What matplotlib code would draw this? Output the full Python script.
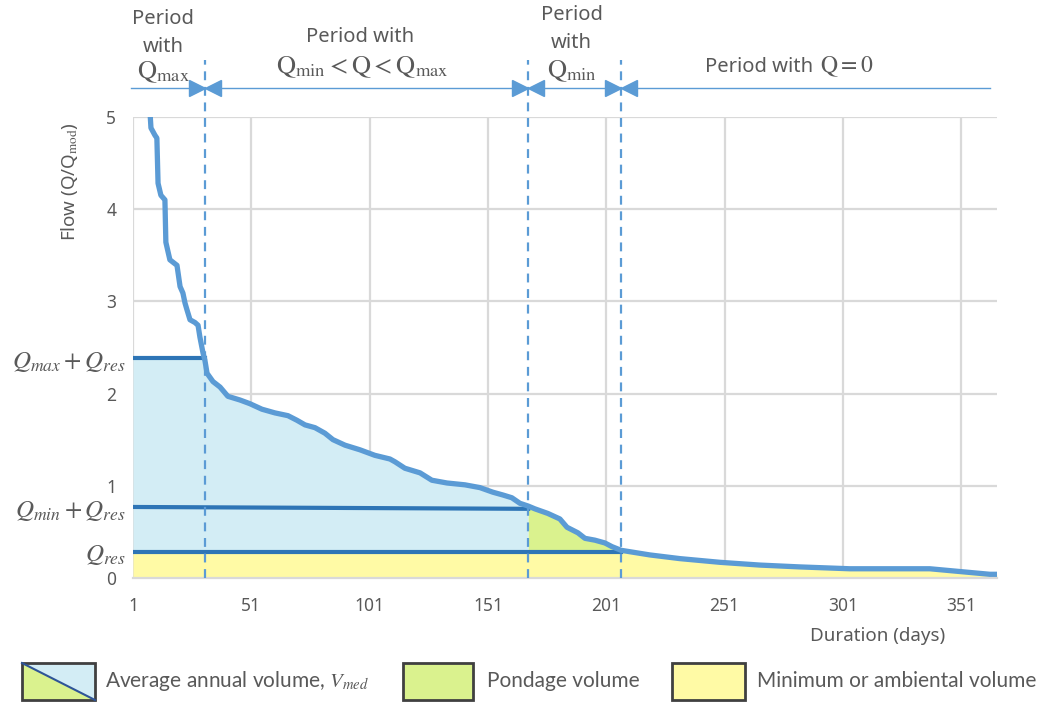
import numpy as np
import matplotlib
matplotlib.use("Agg")
import matplotlib.pyplot as plt
import matplotlib.transforms as mtransforms
from matplotlib.patches import Rectangle, Polygon

plt.rcParams["font.family"] = ["Noto Sans", "DejaVu Sans"]
plt.rcParams["mathtext.fontset"] = "stix"

# flow duration curve (days, Q/Qmod)
days = [1, 8.2, 8.6, 10.3, 11.1, 11.6, 12.8, 14.5, 14.9, 16.6, 19.6, 20.9,
        22.1, 23.0, 23.8, 25.1, 27.2, 28.5, 29.3, 30.6, 31.4, 32.3, 34.8,
        37.8, 41.1, 46.2, 50.4, 55.5, 61.0, 66.5, 70.3, 73.7, 77.9, 82.1,
        85.5, 90.6, 96.9, 103.2, 109.6, 111.7, 115.9, 122.3, 127.3, 133.7,
        141.3, 147.6, 153.1, 157.3, 161.1, 164.5, 168, 170.8, 176.3, 181.4,
        184.4, 189.0, 192.0, 196.2, 200.4, 203.4, 207.3, 219.4, 232.1,
        249.0, 265.9, 282.8, 303.9, 337.7, 350.4, 363.1, 366]
flow = [7.5, 5.05, 4.88, 4.80, 4.77, 4.28, 4.15, 4.10, 3.64, 3.45, 3.39, 3.16,
        3.09, 2.98, 2.91, 2.80, 2.77, 2.74, 2.61, 2.44, 2.36, 2.22, 2.13,
        2.07, 1.97, 1.93, 1.89, 1.83, 1.79, 1.76, 1.71, 1.66, 1.63, 1.57,
        1.50, 1.44, 1.39, 1.33, 1.29, 1.26, 1.19, 1.14, 1.06, 1.03,
        1.01, 0.98, 0.93, 0.90, 0.87, 0.81, 0.78, 0.75, 0.70, 0.64,
        0.55, 0.49, 0.43, 0.41, 0.38, 0.34, 0.30, 0.25, 0.21,
        0.17, 0.14, 0.12, 0.10, 0.10, 0.07, 0.04, 0.04]

Q_MAX_RES = 2.38
Q_MIN_RES = 0.76
Q_RES = 0.28
# period limits (days)
D_QMAX = 31.4
D_QMIN = 168
D_ZERO = 207.3

xticks = [1, 51, 101, 151, 201, 251, 301, 351]
yticks = [0, 1, 2, 3, 4, 5]

BLUE_LINE = "#5B9BD5"
DARK_BLUE = "#2E75B6"
FILL_BLUE = "#D3EDF5"
FILL_GREEN = "#DAF28E"
FILL_YELLOW = "#FFFAA5"
GREY = "#595959"
GRID = "#D9D9D9"

x = np.array(days)
q = np.array(flow)

fig = plt.figure(figsize=(10.47, 7.04), dpi=100)
ax = fig.add_axes([0.127, 0.179, 0.825, 0.655])

# fills
ax.fill_between(x, 0, np.minimum(q, Q_RES), color=FILL_YELLOW, lw=0, zorder=1)
ax.fill_between(x, Q_RES, np.minimum(q, Q_MAX_RES), where=x <= D_QMIN,
                color=FILL_BLUE, lw=0, zorder=1)
ax.fill_between(x, Q_RES, q, where=(x >= D_QMIN) & (x <= D_ZERO),
                color=FILL_GREEN, lw=0, zorder=1)

# reference levels
ax.plot([1, D_QMAX], [Q_MAX_RES, Q_MAX_RES], color=DARK_BLUE, lw=3, zorder=3)
ax.plot([1, D_QMIN], [Q_MIN_RES + 0.01, Q_MIN_RES - 0.01], color=DARK_BLUE, lw=3, zorder=3)
ax.plot([1, D_ZERO], [Q_RES, Q_RES], color=DARK_BLUE, lw=3, zorder=3)

# duration curve
ax.plot(x, q, color=BLUE_LINE, lw=3.8, solid_joinstyle="round", zorder=4)

# period separators and top arrows
y_top = 5.31
ax.plot([0, 363], [y_top, y_top], color=BLUE_LINE, lw=1, clip_on=False, zorder=5)
for d in [D_QMAX, D_QMIN, D_ZERO]:
    ax.plot([d, d], [0, 5.62], color=BLUE_LINE, lw=1.6, ls=(0, (4, 3)),
            clip_on=False, zorder=5)
    ax.plot(d - 3.5, y_top, marker=">", ms=12, color=BLUE_LINE, mec=BLUE_LINE,
            clip_on=False, zorder=6)
    ax.plot(d + 3.5, y_top, marker="<", ms=12, color=BLUE_LINE, mec=BLUE_LINE,
            clip_on=False, zorder=6)

# axes styling
ax.set_xlim(1, 366)
ax.set_ylim(0, 5)
ax.set_xticks(xticks)
ax.set_yticks(yticks)
ax.grid(True, color=GRID, lw=1.6, zorder=0)
ax.set_axisbelow(True)
for s in ["top", "right", "left"]:
    ax.spines[s].set_visible(False)
ax.spines["bottom"].set_color(GRID)
ax.spines["bottom"].set_linewidth(1.6)
ax.tick_params(length=0, labelsize=12.5, colors=GREY)
ax.tick_params(axis="x", pad=14)
ax.tick_params(axis="y", pad=12)

ax.set_ylabel(r"Flow (Q/Q$_{\mathrm{mod}}$)", fontsize=13.5, color=GREY)
ax.yaxis.set_label_coords(-0.061, 0.86)
ax.text(0.862, -0.126, "Duration (days)", transform=ax.transAxes,
        ha="center", va="center", fontsize=13.5, color=GREY)

# level labels on the left (baseline sits a little under each line)
trans = mtransforms.blended_transform_factory(ax.transAxes, ax.transData)
for lab, lvl in [(r"$Q_{max} + Q_{res}$", Q_MAX_RES),
                 (r"$Q_{min} + Q_{res}$", Q_MIN_RES),
                 (r"$Q_{res}$", Q_RES)]:
    ax.text(-0.008, lvl - 0.1, lab, transform=trans, ha="right", va="baseline",
            fontsize=18, color=GREY)

# period headers (one text per line, placed on baselines)
hdr = dict(transform=ax.transAxes, va="baseline", fontsize=14.5, color=GREY)
mth = dict(hdr, fontsize=19)
ax.text(0.035, 1.2017, "Period", ha="center", **hdr)
ax.text(0.035, 1.141, "with", ha="center", **hdr)
ax.text(0.035, 1.0846, r"$\mathrm{Q_{max}}$", ha="center", **mth)
ax.text(0.263, 1.1627, "Period with", ha="center", **hdr)
ax.text(0.265, 1.0954, r"$\mathrm{Q_{min}} < \mathrm{Q} < \mathrm{Q_{max}}$",
        ha="center", **mth)
ax.text(0.508, 1.2104, "Period", ha="center", **hdr)
ax.text(0.508, 1.1497, "with", ha="center", **hdr)
ax.text(0.508, 1.0868, r"$\mathrm{Q_{min}}$", ha="center", **mth)
ax.text(0.788, 1.0976, "Period with", ha="right", **hdr)
ax.text(0.795, 1.0976, r"$\mathrm{Q} = 0$", ha="left", **dict(hdr, fontsize=17))

# legend drawn in pixel-like coordinates
lg = fig.add_axes([0, 0, 1, 0.08])
lg.set_xlim(0, 1047)
lg.set_ylim(0, 56.32)
lg.axis("off")
edge = "#404040"
lg.add_patch(Polygon([[22, 41], [95, 41], [95, 4]], closed=True,
                     facecolor=FILL_BLUE, lw=0))
lg.add_patch(Polygon([[22, 41], [22, 4], [95, 4]], closed=True,
                     facecolor=FILL_GREEN, lw=0))
lg.plot([22, 95], [41, 4], color="#2F5597", lw=1.5)
lg.add_patch(Rectangle((22, 4), 73, 37, fill=False, edgecolor=edge, lw=2))
lg.add_patch(Rectangle((403, 4), 70, 37, facecolor=FILL_GREEN, edgecolor=edge, lw=2))
lg.add_patch(Rectangle((672, 4), 73, 37, facecolor=FILL_YELLOW, edgecolor=edge, lw=2))
legtxt = dict(va="center", ha="left", fontsize=15, color=GREY,
              family=["Lato", "DejaVu Sans"])
lg.text(105, 23, r"Average annual volume, $V_{med}$", **legtxt)
lg.text(487, 23, "Pondage volume", **legtxt)
lg.text(757, 23, "Minimum or ambiental volume", **legtxt)

fig.savefig("out.png", dpi=100)
